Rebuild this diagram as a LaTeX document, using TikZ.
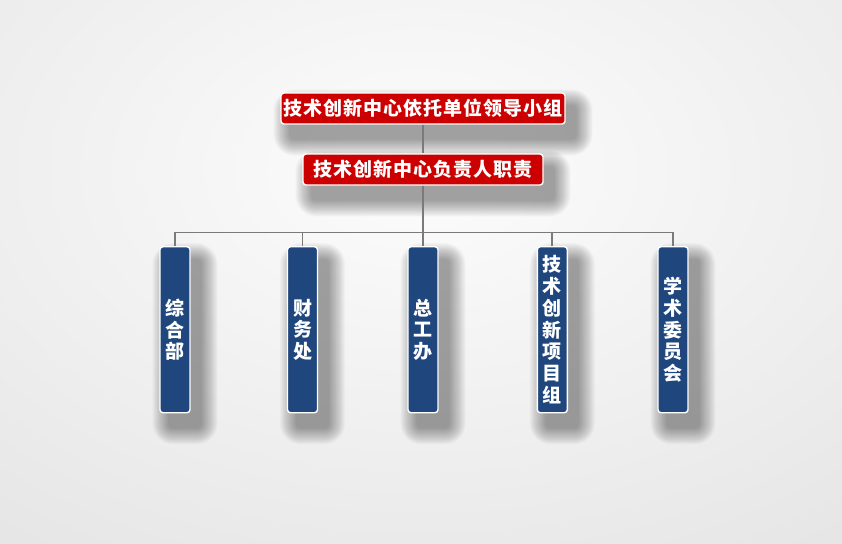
\documentclass[tikz,border=0pt]{standalone}
\usepackage{fontspec}
\newfontfamily\cjk[LetterSpace=5]{Noto Sans CJK SC}
\newfontfamily\cjkv{Noto Sans CJK SC}
\usetikzlibrary{calc}
\pgfdeclarelayer{bglayer}
\pgfdeclarelayer{shadowlayer}
\pgfsetlayers{bglayer,shadowlayer,main}
\definecolor{boxred}{HTML}{CC0000}
\definecolor{boxblue}{HTML}{1F467D}
\definecolor{linegray}{HTML}{7A7A7A}
\definecolor{bgedge}{HTML}{E6E6E6}
\tikzset{
  redbox/.style={draw=white, line width=1.4pt, fill=boxred, rounded corners=3pt,
    minimum height=31pt, inner sep=0pt, text=white,
    font=\cjk\bfseries\fontsize{19}{19}\selectfont},
  bluebox/.style={draw=white, line width=1.4pt, fill=boxblue, rounded corners=3pt,
    minimum width=30pt, minimum height=166pt, inner sep=0pt, text=white, align=center,
    font=\cjkv\bfseries\fontsize{19}{21.7}\selectfont},
  conn/.style={draw=linegray, line width=1.8pt},
  shadowpiece/.style={fill=black, opacity=0.018}
}
\newcommand\mkshadow[1]{%
  \begin{pgfonlayer}{shadowlayer}
  \foreach \k in {1,...,20}{%
    \pgfmathsetmacro\ee{\k*0.85}
    \pgfmathsetmacro\rc{3+\k*0.9}
    \fill[shadowpiece, rounded corners=\rc pt] ($(#1.south west)+(10-\ee,14+\ee)$) rectangle ($(#1.north east)+(10+\ee,14-\ee)$);
  }
  \end{pgfonlayer}}
\begin{document}
\begin{tikzpicture}[x=1pt,y=-1pt]
\useasboundingbox (0,0) rectangle (842,543);
\begin{pgfonlayer}{bglayer}
  \fill[bgedge] (0,0) rectangle (842,543);
  \clip (0,0) rectangle (842,543);
  \foreach \i in {0,...,20}{%
    \pgfmathsetmacro\rr{620-27*\i}
    \pgfmathsetmacro\pp{100-4*\i}
    \fill[bgedge!\pp!white] (421,170) ellipse ({\rr*1.15} and {\rr*0.75});
  }
\end{pgfonlayer}
\node[redbox, minimum width=284pt] (top) at (423,108.5) {技术创新中心依托单位领导小组};
\node[redbox, minimum width=240pt] (mid) at (423,169.5) {技术创新中心负责人职责};
\node[bluebox] (b1) at (175,329.7) {综\\合\\部};
\node[bluebox] (b2) at (302.5,329.7) {财\\务\\处};
\node[bluebox] (b3) at (423,329.7) {总\\工\\办};
\node[bluebox] (b4) at (552.3,329.7) {技\\术\\创\\新\\项\\目\\组};
\node[bluebox] (b5) at (673,329.7) {学\\术\\委\\员\\会};
\mkshadow{top}
\mkshadow{mid}
\mkshadow{b1}
\mkshadow{b2}
\mkshadow{b3}
\mkshadow{b4}
\mkshadow{b5}
\coordinate (bar) at (423,232.5);
\draw[conn] (top.south) -- (mid.north);
\draw[conn] (mid.south) -- (b3.north);
\draw[conn] (b1.north) |- (bar) -| (b5.north);
\draw[conn] (b2.north) -- (b2.north |- bar);
\draw[conn] (b4.north) -- (b4.north |- bar);
\end{tikzpicture}
\end{document}
